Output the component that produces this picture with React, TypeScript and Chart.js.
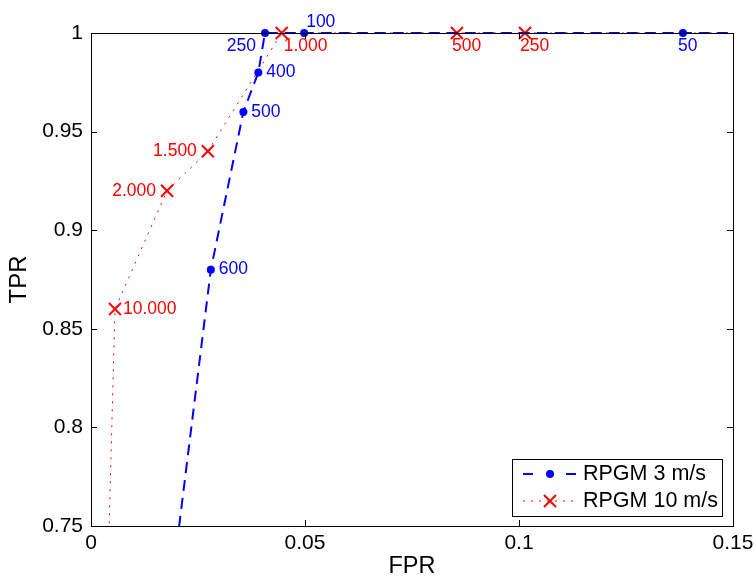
import { useEffect, useRef } from "react";
import { Chart, registerables } from "chart.js";

Chart.register(...registerables);

// ROC points (FPR, TPR) with the threshold that produced each point.
// The first and last entries lie outside the visible window and only
// carry the curve to the plot edges.
const series3Name = "RPGM 3 m/s";
const fpr3 = [0.0149, 0.0280, 0.0356, 0.0391, 0.04065, 0.0498, 0.1383, 1];
const tpr3 = [0.65, 0.88, 0.96, 0.98, 1, 1, 1, 1];
const thr3 = ["", "600", "500", "400", "250", "100", "50", ""];

const series10Name = "RPGM 10 m/s";
const fpr10 = [0.003, 0.0056, 0.01776, 0.0273, 0.04455, 0.0855, 0.1014, 1];
const tpr10 = [0.65, 0.86, 0.92, 0.94, 1, 1, 1, 1];
const thr10 = ["", "10.000", "2.000", "1.500", "1.000", "500", "250", ""];

const xTicks = [0, 0.05, 0.1, 0.15];
const yTicks = [0.75, 0.8, 0.85, 0.9, 0.95, 1];

// where each threshold label sits relative to its marker
const place3 = ["", "r", "r", "r", "bl", "ar", "b", ""];
const place10 = ["", "r", "l", "l", "br", "b", "b", ""];

const BLUE = "#0000ff";
const RED = "#ff0000";
const FONT = "'Liberation Sans', Arial, Helvetica, sans-serif";

const fmt = (v: number) => String(Number(v.toFixed(2)));

const pointLabels = {
  id: "pointLabels",
  afterDatasetsDraw(chart: any) {
    const ctx = chart.ctx;
    const groups = [
      { meta: chart.getDatasetMeta(0), texts: thr3, place: place3, color: BLUE },
      { meta: chart.getDatasetMeta(1), texts: thr10, place: place10, color: RED },
    ];
    ctx.save();
    ctx.font = `17.5px ${FONT}`;
    for (const g of groups) {
      ctx.fillStyle = g.color;
      g.meta.data.forEach((pt: any, i: number) => {
        const t = g.texts[i];
        if (!t) return;
        const p = g.place[i];
        let x = pt.x;
        let y = pt.y;
        ctx.textBaseline = "middle";
        if (p === "r") {
          ctx.textAlign = "left";
          x += 8;
        } else if (p === "l") {
          ctx.textAlign = "right";
          x -= 11;
        } else if (p === "bl") {
          ctx.textAlign = "right";
          x -= 9;
          y += 13;
        } else if (p === "br") {
          ctx.textAlign = "left";
          x += 2;
          y += 13;
        } else if (p === "ar") {
          ctx.textAlign = "left";
          x += 2;
          y -= 11;
        } else {
          ctx.textAlign = "left";
          x -= 5;
          y += 13;
        }
        ctx.fillText(t, x, y);
      });
    }
    ctx.restore();
  },
};

const axesBox = {
  id: "axesBox",
  afterDraw(chart: any) {
    const { ctx, chartArea: a, scales } = chart;
    const len = 6;
    ctx.save();
    ctx.strokeStyle = "#000";
    ctx.lineWidth = 1;
    ctx.setLineDash([]);
    ctx.beginPath();
    for (const v of xTicks) {
      const x = Math.round(scales.x.getPixelForValue(v)) + 0.5;
      ctx.moveTo(x, a.bottom);
      ctx.lineTo(x, a.bottom - len);
      ctx.moveTo(x, a.top);
      ctx.lineTo(x, a.top + len);
    }
    for (const v of yTicks) {
      const y = Math.round(scales.y.getPixelForValue(v)) + 0.5;
      ctx.moveTo(a.left, y);
      ctx.lineTo(a.left + len, y);
      ctx.moveTo(a.right, y);
      ctx.lineTo(a.right - len, y);
    }
    ctx.stroke();
    ctx.strokeRect(Math.round(a.left) + 0.5, Math.round(a.top) + 0.5, Math.round(a.right - a.left), Math.round(a.bottom - a.top));

    // legend box, lower right inside the axes
    const w = 210;
    const h = 57;
    const bx = Math.round(a.right) - 11 - w;
    const by = Math.round(a.bottom) - 10 - h;
    ctx.fillStyle = "#fff";
    ctx.fillRect(bx, by, w, h);
    ctx.strokeRect(bx + 0.5, by + 0.5, w, h);

    const rows = [
      { name: series3Name, y: by + 15, color: BLUE },
      { name: series10Name, y: by + 42, color: RED },
    ];
    const x0 = bx + 11;
    const x1 = bx + 65;
    const xm = (x0 + x1) / 2;
    // blue dashed sample with filled circle
    ctx.strokeStyle = BLUE;
    ctx.lineWidth = 2;
    ctx.setLineDash([10, 33]);
    ctx.beginPath();
    ctx.moveTo(x0, rows[0].y);
    ctx.lineTo(x1, rows[0].y);
    ctx.stroke();
    ctx.setLineDash([]);
    ctx.fillStyle = BLUE;
    ctx.beginPath();
    ctx.arc(xm, rows[0].y, 4, 0, Math.PI * 2);
    ctx.fill();
    // red dotted sample with cross
    ctx.strokeStyle = RED;
    ctx.lineWidth = 1;
    ctx.setLineDash([2, 6]);
    ctx.beginPath();
    ctx.moveTo(x0, rows[1].y);
    ctx.lineTo(x1, rows[1].y);
    ctx.stroke();
    ctx.setLineDash([]);
    ctx.lineWidth = 2;
    ctx.beginPath();
    const c = 6;
    ctx.moveTo(xm - c, rows[1].y - c);
    ctx.lineTo(xm + c, rows[1].y + c);
    ctx.moveTo(xm - c, rows[1].y + c);
    ctx.lineTo(xm + c, rows[1].y - c);
    ctx.stroke();

    ctx.fillStyle = "#000";
    ctx.font = `21.5px ${FONT}`;
    ctx.textAlign = "left";
    ctx.textBaseline = "middle";
    for (const r of rows) ctx.fillText(r.name, bx + 71, r.y);
    ctx.restore();
  },
};

export default function App() {
  const ref = useRef<HTMLCanvasElement | null>(null);

  useEffect(() => {
    if (!ref.current) return;
    const chart = new Chart(ref.current, {
      type: "line",
      data: {
        datasets: [
          {
            label: series3Name,
            data: fpr3.map((x, i) => ({ x, y: tpr3[i] })),
            borderColor: BLUE,
            backgroundColor: BLUE,
            borderWidth: 2,
            borderDash: [11, 7],
            pointStyle: "circle",
            pointRadius: 4,
            pointBorderWidth: 0,
            pointBackgroundColor: BLUE,
            tension: 0,
            fill: false,
            clip: { left: 0, top: 14, right: 0, bottom: 0 },
          },
          {
            label: series10Name,
            data: fpr10.map((x, i) => ({ x, y: tpr10[i] })),
            borderColor: RED,
            backgroundColor: RED,
            borderWidth: 1,
            borderDash: [2, 6],
            pointStyle: "crossRot",
            pointRadius: 8.5,
            pointBorderWidth: 2,
            pointBorderColor: RED,
            tension: 0,
            fill: false,
            clip: { left: 0, top: 14, right: 0, bottom: 0 },
          },
        ],
      },
      options: {
        animation: false,
        responsive: false,
        events: [],
        layout: { padding: { left: 0, right: 21, top: 33, bottom: 0 } },
        plugins: {
          legend: { display: false },
          tooltip: { enabled: false },
        },
        scales: {
          x: {
            type: "linear",
            min: 0,
            max: 0.15,
            afterBuildTicks: (s: any) => {
              s.ticks = xTicks.map((value) => ({ value }));
            },
            afterFit: (s: any) => {
              s.height = 52;
              s.paddingLeft = 0;
              s.paddingRight = 0;
            },
            grid: { display: false, drawTicks: false },
            border: { display: false },
            ticks: {
              color: "#000",
              font: { family: FONT, size: 21 },
              padding: 5,
              maxRotation: 0,
              autoSkip: false,
              callback: (v: any) => fmt(Number(v)),
            },
            title: {
              display: true,
              text: "FPR",
              color: "#000",
              font: { family: FONT, size: 23.5, lineHeight: 1 },
              padding: { top: 0, bottom: 0 },
            },
          },
          y: {
            type: "linear",
            min: 0.75,
            max: 1,
            afterBuildTicks: (s: any) => {
              s.ticks = yTicks.map((value) => ({ value }));
            },
            afterFit: (s: any) => {
              s.width = 91;
              s.paddingTop = 0;
              s.paddingBottom = 0;
            },
            grid: { display: false, drawTicks: false },
            border: { display: false },
            ticks: {
              color: "#000",
              font: { family: FONT, size: 21 },
              padding: 8,
              autoSkip: false,
              callback: (v: any) => fmt(Number(v)),
            },
            title: {
              display: true,
              text: "TPR",
              color: "#000",
              font: { family: FONT, size: 24, lineHeight: 1 },
              padding: { top: 7, bottom: 0 },
            },
          },
        },
      },
      plugins: [pointLabels, axesBox],
    });
    return () => chart.destroy();
  }, []);

  return (
    <div style={{ position: "fixed", left: 0, top: 0, width: 754, height: 578, background: "#fff" }}>
      <canvas ref={ref} width={754} height={578} style={{ display: "block" }} />
    </div>
  );
}
